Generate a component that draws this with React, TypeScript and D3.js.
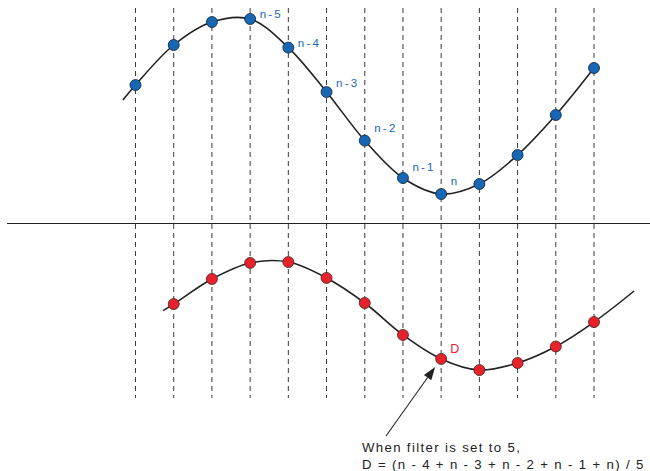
import React from "react";
import * as d3 from "d3";

// sample index positions (vertical dashed lines)
const sampleIdx = d3.range(0, 13);
// raw signal (top), value per sample index
const rawValues = [6.25, 8.25, 9.4, 9.55, 8.12, 5.9, 3.47, 1.6, 0.8, 1.3, 2.75, 4.75, 7.1];
// lead-in of raw curve before first sample
const rawLead = { i: -0.33, v: 5.5 };
// filtered signal (bottom), samples 1..12
const filtIdx = d3.range(1, 13);
const filtValues = [5.73, 7.4, 8.47, 8.53, 7.47, 5.8, 3.67, 2.07, 1.33, 1.8, 2.9, 4.53];
const filtLead = { i: 0.72, v: 5.29 };
const filtTail = { i: 13.05, v: 6.6 };
// labels for the raw samples
const labelIdx = [3, 4, 5, 6, 7, 8];
const labelText = ["n-5", "n-4", "n-3", "n-2", "n-1", "n"];
const labelDy = [-5, -5, -9, -13, -11, -13];
const dIndex = 8;
const noteLines = ["When filter is set to 5,", "D = (n - 4 + n - 3 + n - 2 + n - 1 + n) / 5"];

const W = 650, H = 471;
const BLUE = "#1767b5";
const RED = "#e8222b";

export default function App() {
  const x = d3.scaleLinear().domain([0, 12]).range([135.5, 594]);
  const yTop = d3.scaleLinear().domain([0, 10]).range([210, 10]);
  const yBot = d3.scaleLinear().domain([0, 10]).range([390, 240]);

  const rawPts: [number, number][] = [[rawLead.i, rawLead.v], ...rawValues.map((v, i) => [i, v] as [number, number])];
  const filtPts: [number, number][] = [
    [filtLead.i, filtLead.v],
    ...filtValues.map((v, k) => [filtIdx[k], v] as [number, number]),
    [filtTail.i, filtTail.v],
  ];

  const lineTop = d3.line<[number, number]>().x(d => x(d[0])).y(d => yTop(d[1])).curve(d3.curveCatmullRom.alpha(0.5));
  const lineBot = d3.line<[number, number]>().x(d => x(d[0])).y(d => yBot(d[1])).curve(d3.curveCatmullRom.alpha(0.5));

  const dx = x(dIndex);
  const dy = yBot(filtValues[filtIdx.indexOf(dIndex)]);
  // arrow from note towards D point
  const ax0 = 386, ay0 = 436;
  const ang = Math.atan2(dy + 8 - ay0, dx - 6 - ax0);
  const tipX = dx - 6, tipY = dy + 8;
  const hl = 13, hw = 4.5;
  const bx = tipX - hl * Math.cos(ang), by = tipY - hl * Math.sin(ang);
  const head = [
    [tipX, tipY],
    [bx + hw * Math.sin(ang), by - hw * Math.cos(ang)],
    [bx - hw * Math.sin(ang), by + hw * Math.cos(ang)],
  ];

  return (
    <svg width={W} height={H} style={{ position: "absolute", left: 0, top: 0, background: "#fff" }}
      fontFamily="'Liberation Sans', Arial, sans-serif">
      {sampleIdx.map(i => (
        <line key={i} x1={x(i)} x2={x(i)} y1={8} y2={398} stroke="#3a3a3a" strokeWidth={1} strokeDasharray="5,4" />
      ))}
      <line x1={7} x2={650} y1={223.5} y2={223.5} stroke="#222" strokeWidth={1.2} />
      <path d={lineTop(rawPts) || ""} fill="none" stroke="#222" strokeWidth={1.6} />
      <path d={lineBot(filtPts) || ""} fill="none" stroke="#222" strokeWidth={1.6} />
      {rawValues.map((v, i) => (
        <circle key={i} cx={x(i)} cy={yTop(v)} r={5.5} fill={BLUE} stroke="#123" strokeWidth={0.8} />
      ))}
      {filtValues.map((v, k) => (
        <circle key={k} cx={x(filtIdx[k])} cy={yBot(v)} r={5.5} fill={RED} stroke="#422" strokeWidth={0.8} />
      ))}
      {labelIdx.map((i, k) => (
        <text key={k} x={x(i) + 9.5} y={yTop(rawValues[i]) + labelDy[k]} dominantBaseline="central"
          fontSize={11.5} fill={BLUE} letterSpacing={2.2}>{labelText[k]}</text>
      ))}
      <text x={dx + 9} y={dy - 10} dominantBaseline="central" fontSize={12.5} fill={RED}>D</text>
      <line x1={ax0} y1={ay0} x2={bx} y2={by} stroke="#222" strokeWidth={1.1} />
      <polygon points={head.map(p => p.join(",")).join(" ")} fill="#222" />
      {noteLines.map((t, k) => (
        <text key={k} x={362} y={451.5 + k * 17.5} fontSize={13.2} fill="#222" letterSpacing={1.35}>{t}</text>
      ))}
    </svg>
  );
}
